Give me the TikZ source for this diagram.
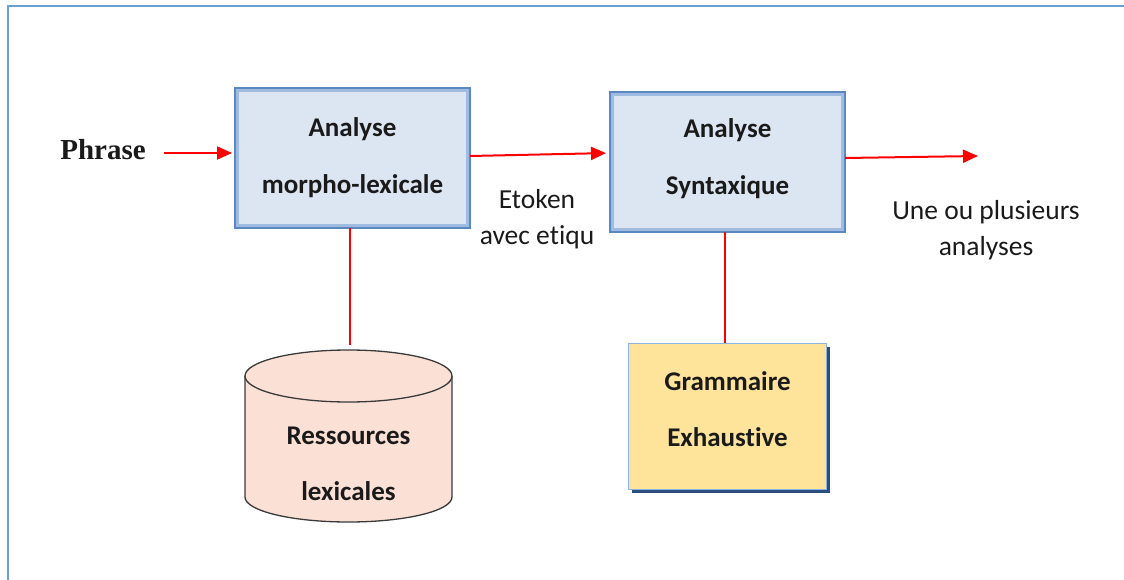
\documentclass[tikz,border=0pt]{standalone}
\usepackage{fontspec}
\setmainfont{Carlito}[Ligatures=NoCommon]
\newfontfamily\phrasefont{Liberation Serif}
\usetikzlibrary{arrows.meta,shadows}
\definecolor{frameblue}{HTML}{6A9FD8}
\definecolor{boxin}{HTML}{DCE6F2}
\definecolor{boxmid}{HTML}{9FBCE0}
\definecolor{boxedge}{HTML}{5A88C2}
\definecolor{boxshadow}{HTML}{2C4E7E}
\definecolor{peach}{HTML}{FBE1D5}
\definecolor{cylline}{HTML}{3A3A3A}
\definecolor{gold}{HTML}{FEE39B}
\definecolor{goldedge}{HTML}{8DB3E2}
\definecolor{txt}{HTML}{1A1A1A}
\tikzset{
  procbox/.style={rectangle, fill=boxin, draw=boxmid, line width=4pt, inner sep=0pt,
    minimum width=231pt, minimum height=136pt, align=center, text=txt,
    font=\bfseries\fontsize{27}{57}\selectfont,
    drop shadow={shadow xshift=3pt, shadow yshift=-3pt, fill=boxshadow, opacity=1}},
  grambox/.style={rectangle, fill=gold, draw=goldedge, line width=1.5pt, inner sep=0pt,
    minimum width=198pt, minimum height=146pt, align=center, text=txt,
    font=\bfseries\fontsize{27}{56}\selectfont,
    drop shadow={shadow xshift=3pt, shadow yshift=-3pt, fill=boxshadow, opacity=1}},
  lbl/.style={align=center, text=txt, inner sep=0pt, font=\fontsize{27.5}{36}\selectfont},
  arr/.style={draw=red, line width=2pt, -{Triangle[length=15pt,width=13pt]}},
  link/.style={draw=red, line width=2pt},
}
\begin{document}
\begin{tikzpicture}[x=1pt,y=-1pt]
\useasboundingbox (0,0) rectangle (1124,580);
% frame
\draw[frameblue, line width=2.2pt] (8,580) -- (8,6) -- (1124,6);

% main boxes
\node[procbox] (m1) at (352.5,158) {Analyse\\morpho-lexicale};
\draw[boxedge, line width=1.3pt] (m1.north west) rectangle (m1.south east);
\node[procbox, text depth=10.5pt] (m2) at (727.5,162) {Analyse\\Syntaxique};
\draw[boxedge, line width=1.3pt] (m2.north west) rectangle (m2.south east);

% phrase
\node[inner sep=0pt, text=txt, font=\phrasefont\bfseries\fontsize{29}{34}\selectfont] (phr) at (103,150) {Phrase};

% cylinder
\fill[peach] (245,376) -- (245,497) arc[start angle=180, end angle=0, x radius=103.5, y radius=25] -- (452,376) -- cycle;
\draw[cylline, line width=1.3pt] (245,376) -- (245,497) arc[start angle=180, end angle=0, x radius=103.5, y radius=25] -- (452,376);
\draw[cylline, line width=1.3pt, fill=peach] (348.5,376) ellipse [x radius=103.5, y radius=26];
\node[align=center, text=txt, inner sep=0pt, font=\bfseries\fontsize{27}{56}\selectfont] (res) at (348.5,464) {Ressources\\lexicales};
\coordinate (cyltop) at (350,345);

% grammar box
\node[grambox, text depth=14pt] (gram) at (727.5,416.5) {Grammaire\\Exhaustive};
\coordinate (gtop) at (725,343);

% labels
\node[lbl] (etok) at (537,219) {Etoken\\avec etiqu};
\node[lbl] (une) at (986,230) {Une ou plusieurs\\analyses};
\coordinate (out) at (978,156);

% connectors
\draw[arr, shorten >=3pt] ([xshift=18pt,yshift=-3pt]phr.east) -- ([yshift=5pt]m1.west);
\draw[arr, shorten >=4pt] ([yshift=2pt]m1.east) -- ([yshift=9pt]m2.west);
\draw[arr] ([yshift=4pt]m2.east) -- (out);
\draw[link] (cyltop |- m1.south) -- (cyltop);
\draw[link] (gtop |- m2.south) -- (gtop);
\end{tikzpicture}
\end{document}
